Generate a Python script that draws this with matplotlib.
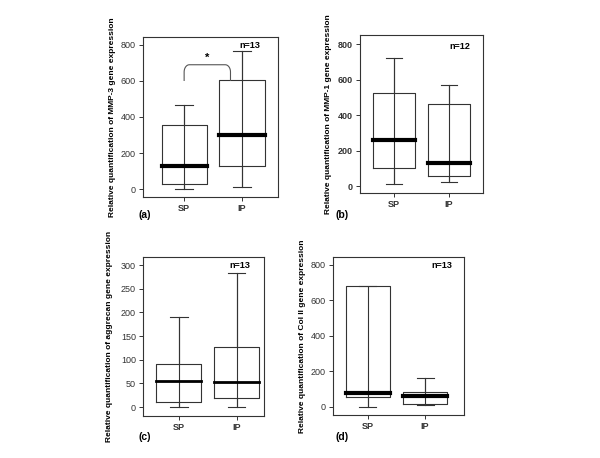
import matplotlib
matplotlib.use("Agg")
import matplotlib.pyplot as plt
import numpy as np

plt.rcParams['font.family'] = ['Liberation Sans', 'DejaVu Sans']

groups = ['SP', 'IP']

# box summaries per panel: (low whisker, q1, median, q3, high whisker)
mmp3_sp = [0, 30, 126, 358, 464]
mmp3_ip = [9, 126, 300, 603, 766]
mmp1_sp = [9, 104, 258, 525, 723]
mmp1_ip = [21, 58, 132, 465, 570]
aggr_sp = [1, 11, 56, 91, 190]
aggr_ip = [1, 19, 53, 126, 284]
col2_sp = [0, 54, 75, 682, 682]
col2_ip = [9, 17, 58, 85, 164]

n_labels = ['n=13', 'n=12', 'n=13', 'n=13']
ylabels = ['Relative quantification of MMP-3 gene expression',
           'Relative quantification of MMP-1 gene expression',
           'Relative quantification of aggrecan gene expression',
           'Relative quantification of Col II gene expression']
panel_tags = ['(a)', '(b)', '(c)', '(d)']
yticks = [[0, 200, 400, 600, 800], [0, 200, 400, 600, 800],
          [0, 50, 100, 150, 200, 250, 300], [0, 200, 400, 600, 800]]

W, H = 600, 458


def px_axes(fig, left, top, right, bottom):
    return fig.add_axes([left / W, 1 - bottom / H, (right - left) / W, (bottom - top) / H])


def stats(vals, name):
    lo, q1, med, q3, hi = vals
    return dict(whislo=lo, q1=q1, med=med, q3=q3, whishi=hi, label=name, fliers=[])


fig = plt.figure(figsize=(6, 4.58), dpi=100)

panels = [
    dict(box=(143, 37, 278, 197), data=(mmp3_sp, mmp3_ip), ylim=(-44, 844), xlim=(0.29, 2.62),
         npos=(2.14, 795), ylx=113, tag=(145, 215), bold=False, medw=3.0),
    dict(box=(360, 35, 483, 193), data=(mmp1_sp, mmp1_ip), ylim=(-39, 851), xlim=(0.38, 2.62),
         npos=(2.2, 785), ylx=328, tag=(342, 215), bold=True, medw=3.0),
    dict(box=(143, 257, 264, 416), data=(aggr_sp, aggr_ip), ylim=(-19, 317), xlim=(0.38, 2.47),
         npos=(2.05, 298), ylx=110, tag=(145, 437), bold=False, medw=2.0),
    dict(box=(333, 257, 464, 415), data=(col2_sp, col2_ip), ylim=(-47, 844), xlim=(0.39, 2.68),
         npos=(2.3, 795), ylx=303, tag=(342, 437), bold=False, medw=3.0),
]

edge = '#333333'
for i, p in enumerate(panels):
    ax = px_axes(fig, *p['box'])
    st = [stats(v, g) for v, g in zip(p['data'], groups)]
    # whisker line runs straight through the box
    for pos, v in zip([1, 2], p['data']):
        ax.vlines(pos, v[0], v[4], color=edge, linewidth=0.8, zorder=1)
    ax.bxp(st, positions=[1, 2], widths=0.78, capwidths=0.3, showfliers=False,
           boxprops=dict(color=edge, linewidth=0.8),
           whiskerprops=dict(color=edge, linewidth=0.8),
           capprops=dict(color=edge, linewidth=0.8),
           medianprops=dict(color='black', linewidth=p['medw'], solid_capstyle='projecting'))
    ax.set_xlim(*p['xlim'])
    ax.set_ylim(*p['ylim'])
    ax.set_yticks(yticks[i])
    ax.set_xticks([1, 2])
    ax.set_xticklabels(groups, fontsize=6.5, fontweight='bold')
    wt = 'bold' if p['bold'] else 'normal'
    ax.set_yticklabels([str(t) for t in yticks[i]], fontsize=6.5, fontweight=wt, color='#222222')
    ax.tick_params(length=3, width=0.7, colors=edge, pad=2)
    for s in ax.spines.values():
        s.set_color(edge)
        s.set_linewidth(0.8)
    ax.text(p['npos'][0], p['npos'][1], n_labels[i], fontsize=6.5, fontweight='bold',
            ha='center', va='center')
    fig.text(p['ylx'] / W, 1 - ((p['box'][1] + p['box'][3]) / 2) / H, ylabels[i],
             rotation=90, ha='center', va='center', fontsize=6, fontweight='bold')
    fig.text(p['tag'][0] / W, 1 - p['tag'][1] / H, panel_tags[i], fontsize=7.5,
             fontweight='bold', ha='center', va='center')

    if i == 0:
        # significance bracket from SP up and over to the top of the IP box
        base = mmp3_ip[3]
        top = base + 87
        t = np.linspace(0, np.pi / 2, 12)
        rx, ry = 0.09, 40
        left_x = 1 + rx - rx * np.cos(t)
        left_y = top - ry + ry * np.sin(t)
        right_x = 1.8 - rx + rx * np.sin(t)
        right_y = top - ry + ry * np.cos(t)
        bx = np.concatenate([[1], left_x, right_x, [1.8]])
        by = np.concatenate([[base], left_y, right_y, [base]])
        ax.plot(bx, by, color='#555555', linewidth=0.8)
        ax.text(1.4, top + 12, '*', ha='center', va='bottom', fontsize=8, fontweight='bold')

fig.savefig('out.png', dpi=100)
